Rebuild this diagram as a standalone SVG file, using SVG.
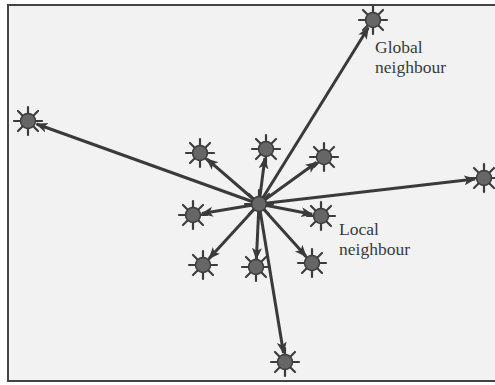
<svg xmlns="http://www.w3.org/2000/svg" width="495" height="385" viewBox="0 0 495 385">
<style>
.edge{stroke:#3a3a3a;stroke-width:3;fill:none;marker-end:url(#ah)}
.body{fill:#666;stroke:#3c3c3c;stroke-width:1.5}
.spk{stroke:#3c3c3c;stroke-width:2.2;stroke-linecap:round}
.lbl{font-family:"Liberation Serif","Times New Roman",serif;font-size:17.5px;fill:#3a3a3a}
.frame{fill:#f2f2f2;stroke:#444;stroke-width:2}
</style>
<defs>
<marker id="ah" markerUnits="userSpaceOnUse" markerWidth="14" markerHeight="12" refX="11" refY="5" orient="auto">
<path d="M0,0 L12,5 L0,10 L3,5 Z" fill="#3a3a3a"/>
</marker>
<g id="star">
<g class="spk">
<line x1="0" y1="-7" x2="0" y2="-14"/>
<line x1="5" y1="-5" x2="10" y2="-10"/>
<line x1="7" y1="0" x2="14" y2="0"/>
<line x1="5" y1="5" x2="10" y2="10"/>
<line x1="0" y1="7" x2="0" y2="14"/>
<line x1="-5" y1="5" x2="-10" y2="10"/>
<line x1="-7" y1="0" x2="-14" y2="0"/>
<line x1="-5" y1="-5" x2="-10" y2="-10"/>
</g>
<circle class="body" r="7.5"/>
</g>
</defs>
<rect class="frame" x="8" y="5" width="500" height="376"/>
<g id="connectors">
<line class="edge" x1="259" y1="204" x2="206.8" y2="158.9"/>
<line class="edge" x1="259" y1="204" x2="264.9" y2="157.9"/>
<line class="edge" x1="259" y1="204" x2="316.7" y2="162.3"/>
<line class="edge" x1="259" y1="204" x2="201.9" y2="213.5"/>
<line class="edge" x1="259" y1="204" x2="312.2" y2="214.3"/>
<line class="edge" x1="259" y1="204" x2="209.1" y2="258.4"/>
<line class="edge" x1="259" y1="204" x2="256.4" y2="258.9"/>
<line class="edge" x1="259" y1="204" x2="306" y2="256.3"/>
<line class="edge" x1="259" y1="204" x2="368.3" y2="27.7"/>
<line class="edge" x1="259" y1="204" x2="36.5" y2="124"/>
<line class="edge" x1="259" y1="204" x2="475.1" y2="179"/>
<line class="edge" x1="259" y1="204" x2="283.5" y2="353.1"/>
</g>
<g id="center"><use href="#star" x="259" y="204"/></g>
<g id="local-ul"><use href="#star" x="200" y="153"/></g>
<g id="local-t"><use href="#star" x="266" y="149"/></g>
<g id="local-ur"><use href="#star" x="324" y="157"/></g>
<g id="local-l"><use href="#star" x="193" y="215"/></g>
<g id="local-r"><use href="#star" x="321" y="216"/></g>
<g id="local-ll"><use href="#star" x="203" y="265"/></g>
<g id="local-b"><use href="#star" x="256" y="267"/></g>
<g id="local-lr"><use href="#star" x="312" y="263"/></g>
<g id="global-tr"><use href="#star" x="373" y="20"/></g>
<g id="global-l"><use href="#star" x="28" y="121"/></g>
<g id="global-r"><use href="#star" x="484" y="178"/></g>
<g id="global-b"><use href="#star" x="285" y="362"/></g>
<g id="label-global">
<text class="lbl" x="375" y="53">Global</text>
<text class="lbl" x="375" y="73">neighbour</text>
</g>
<g id="label-local">
<text class="lbl" x="339" y="235">Local</text>
<text class="lbl" x="339" y="255">neighbour</text>
</g>
</svg>
